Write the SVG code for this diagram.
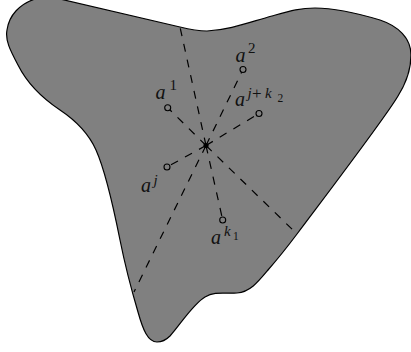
<svg xmlns="http://www.w3.org/2000/svg" width="411" height="352" viewBox="0 0 411 352">
<style>
.region{fill:#808080;stroke:#000;stroke-width:1.2}
.ray{stroke:#000;stroke-width:1.2;stroke-dasharray:8 8;fill:none}
.pt{fill:#808080;stroke:#000;stroke-width:1.1}
.lbl{font-family:"Liberation Serif","DejaVu Serif",serif;fill:#111}
.it{font-style:italic}
.b{font-size:20px}
.s{font-size:15px}
.ss{font-size:11.5px}
</style>
<g id="region">
<path class="region" d="M 60,-1 L 180,27 C 192,30 198,31 207,31 C 230,30 250,22 272,16 C 290,11 300,8 315,8 C 335,8 360,14 380,20 C 398,26 411,38 411,55 C 411,70 405,85 398,96 C 385,118 330,190 297,234 C 285,250 275,262 268,270 C 258,282 250,292 237,293 C 225,294 215,291 205,297 C 193,304 180,325 170,336 C 165,341 161,342 157,342 C 148,342 143,330 138,312 C 130,285 124,260 120,240 C 113,205 105,170 96,150 C 88,132 75,120 60,110 C 42,98 28,85 18,65 C 10,50 5,40 7,30 C 9,15 20,4 35,-1 Z"/>
</g>
<g id="connectors">
<line class="ray" x1="206" y1="145.5" x2="180" y2="27"/>
<line class="ray" x1="206" y1="145.5" x2="297" y2="234"/>
<line class="ray" x1="206" y1="145.5" x2="134" y2="292"/>
<line class="ray" x1="206" y1="145.5" x2="167.7" y2="107.7"/>
<line class="ray" x1="206" y1="145.5" x2="243" y2="69.5"/>
<line class="ray" x1="206" y1="145.5" x2="259" y2="113.5"/>
<line class="ray" x1="206" y1="145.5" x2="167" y2="167"/>
<line class="ray" x1="206" y1="145.5" x2="222.7" y2="220"/>
</g>
<g id="center"><circle cx="206" cy="145.5" r="2.6" fill="#000"/></g>
<g id="a1">
<circle class="pt" cx="167.7" cy="107.7" r="3"/>
<text class="lbl" y="99"><tspan class="it b" x="155.5">a</tspan><tspan class="s" x="169.5" y="90">1</tspan></text>
</g>
<g id="a2">
<circle class="pt" cx="243" cy="69.5" r="3"/>
<text class="lbl" y="62"><tspan class="it b" x="235.5">a</tspan><tspan class="s" x="248" y="53">2</tspan></text>
</g>
<g id="ajk2">
<circle class="pt" cx="259" cy="113.5" r="3"/>
<text class="lbl" y="106"><tspan class="it b" x="235">a</tspan><tspan class="it s" x="247.5" y="98">j</tspan><tspan x="252" y="99" font-size="17">+</tspan><tspan class="it s" x="265" y="98">k</tspan><tspan class="ss" x="277.5" y="102">2</tspan></text>
</g>
<g id="aj">
<circle class="pt" cx="167" cy="167" r="3"/>
<text class="lbl" y="192"><tspan class="it b" x="141">a</tspan><tspan class="it s" x="153.5" y="184.5">j</tspan></text>
</g>
<g id="ak1">
<circle class="pt" cx="222.7" cy="220" r="3"/>
<text class="lbl" y="244"><tspan class="it b" x="211">a</tspan><tspan class="it s" x="224" y="235.5">k</tspan><tspan class="ss" x="233" y="240">1</tspan></text>
</g>
</svg>
